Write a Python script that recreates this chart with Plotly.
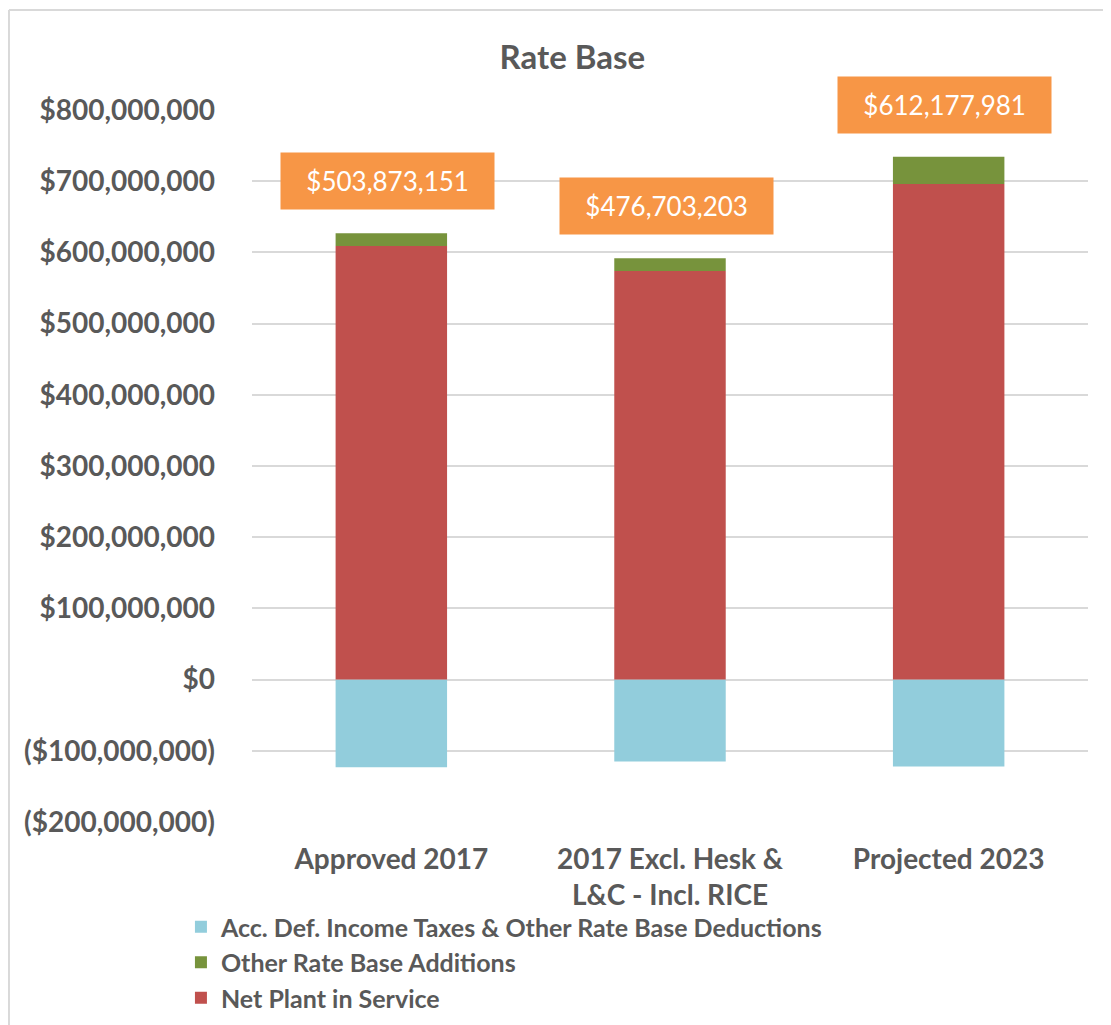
import plotly.graph_objects as go

categories = ["Approved 2017", "2017 Excl. Hesk &<br>L&C - Incl. RICE", "Projected 2023"]
deductions = [-123000000, -115000000, -122000000]
net_plant = [609000000, 574000000, 696000000]
other_add = [17873151, 17703203, 38177981]
totals = ["$503,873,151", "$476,703,203", "$612,177,981"]
tick_vals = [-200000000, -100000000, 0, 100000000, 200000000, 300000000, 400000000, 500000000, 600000000, 700000000, 800000000]
tick_text = ["($200,000,000)", "($100,000,000)", "$0", "$100,000,000", "$200,000,000", "$300,000,000",
             "$400,000,000", "$500,000,000", "$600,000,000", "$700,000,000", "$800,000,000"]

FONT = "Lato"
GRAY = "#595959"

fig = go.Figure()
fig.add_trace(go.Bar(x=categories, y=deductions, name="Acc. Def. Income Taxes & Other Rate Base Deductions",
                     marker=dict(color="#92CDDC", line=dict(width=0)), legendrank=1))
fig.add_trace(go.Bar(x=categories, y=net_plant, name="Net Plant in Service",
                     marker=dict(color="#C0504D", line=dict(width=0)), legendrank=3))
fig.add_trace(go.Bar(x=categories, y=other_add, name="Other Rate Base Additions",
                     marker=dict(color="#77933C", line=dict(width=0)), legendrank=2))

NB = "\u00a0\u00a0"
for c, p, o, t in zip(categories, net_plant, other_add, totals):
    fig.add_annotation(x=c, y=p + o, text=NB + t + NB, showarrow=False, yshift=52, xshift=-4,
                       bgcolor="#F79646", borderpad=12,
                       font=dict(family=FONT, size=26, color="white", weight="normal"))

fig.add_shape(type="line", xref="paper", yref="paper", x0=-0.2907, x1=1.1, y0=1.1404, y1=1.1404,
              line=dict(color="#D9D9D9", width=2))
fig.add_shape(type="line", xref="paper", yref="paper", x0=-0.2907, x1=-0.2907, y0=1.1404, y1=-0.4,
              line=dict(color="#D9D9D9", width=2))

fig.update_layout(
    width=1111, height=1025,
    margin=dict(l=244, r=31, t=102, b=211),
    paper_bgcolor="white", plot_bgcolor="white",
    barmode="relative", bargap=0.6,
    title=dict(text="<b>Rate Base</b>", x=0.508, xanchor="center", y=1 - 49 / 1025, yanchor="middle",
               font=dict(family=FONT, size=33, color=GRAY)),
    font=dict(family=FONT, size=26, color=GRAY, weight="bold"),
    xaxis=dict(showgrid=False, showline=False, ticks="", ticklabelstandoff=18,
               tickfont=dict(family=FONT, size=28, color=GRAY, weight="bold")),
    yaxis=dict(range=[-200000000, 800000000], tickvals=tick_vals, ticktext=tick_text,
               showgrid=True, gridcolor="#D9D9D9", gridwidth=2, zeroline=False, showline=False,
               ticks="", ticklen=0, ticklabelstandoff=36,
               tickfont=dict(family=FONT, size=28, color=GRAY, weight="bold")),
    legend=dict(orientation="v", x=-0.085, xanchor="left", y=-0.2795, yanchor="bottom",
                font=dict(family=FONT, size=25, color=GRAY, weight="bold"),
                traceorder="normal", itemwidth=30, bgcolor="rgba(0,0,0,0)"),
)

fig.write_html("out.html")
